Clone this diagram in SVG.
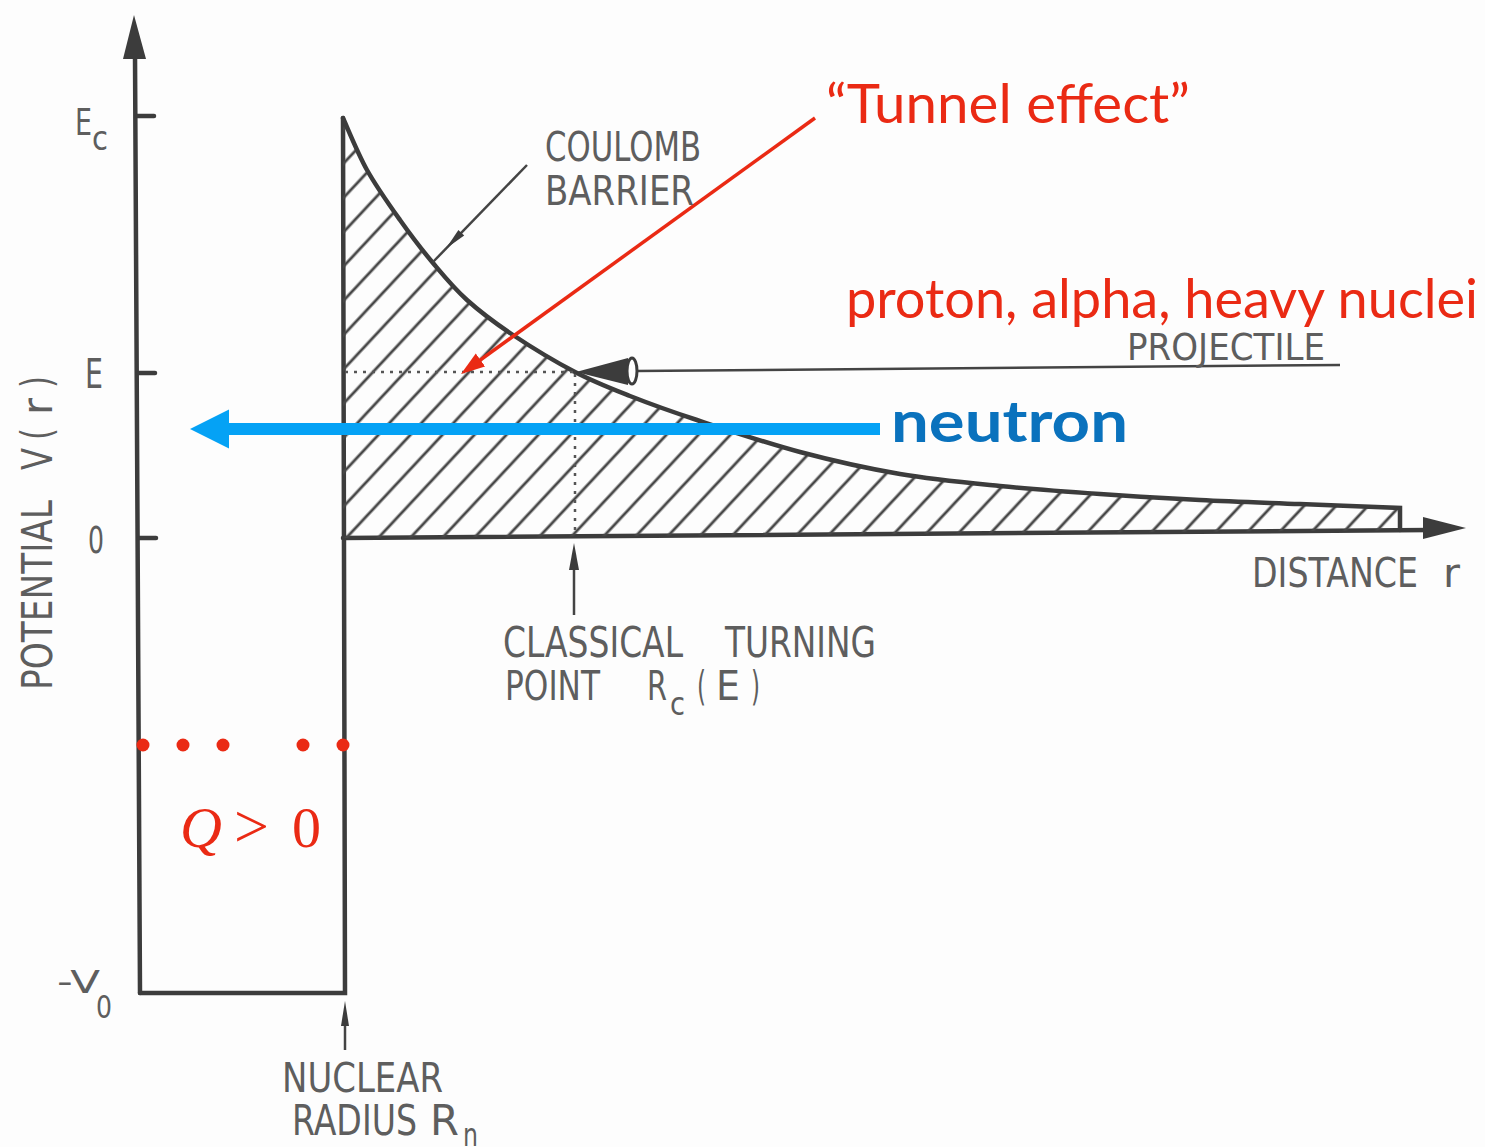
<svg xmlns="http://www.w3.org/2000/svg" width="1485" height="1147" viewBox="0 0 1485 1147">
  <style>
    .ax { stroke: #3c3c3c; stroke-width: 4.5; fill: none; stroke-linecap: round; }
    .ln { stroke: #444; stroke-width: 2.5; fill: none; }
    .dot { stroke: #555; stroke-width: 2.5; fill: none; }
    .dk { fill: #3c3c3c; }
    .lbl { font-family: "DejaVu Sans", "Liberation Sans", sans-serif; fill: #5e5e5e; }
    .red { font-family: Lato, "Open Sans", sans-serif; fill: #ea2a14; font-size: 55px; }
    .rdot { fill: #ea2a14; }
  </style>
  <defs>
    <pattern id="hatch" patternUnits="userSpaceOnUse" width="23.4" height="60" patternTransform="rotate(43)">
      <line x1="11.7" y1="0" x2="11.7" y2="60" stroke="#474747" stroke-width="2.8"/>
    </pattern>
    <marker id="redhead" markerUnits="userSpaceOnUse" markerWidth="26" markerHeight="18" refX="14" refY="8" orient="auto" viewBox="0 0 26 18">
      <path d="M0,0 L24,8 L0,16 Z" fill="#ea2a14"/>
    </marker>
  </defs>
  <rect width="1485" height="1147" fill="#fdfdfd"/>

  <g id="axes">
    <line class="ax" x1="135" y1="55" x2="140" y2="993"/>
    <polygon class="dk" points="134,15 123,59 146,59"/>
    <line class="ax" x1="343" y1="538" x2="1430" y2="530"/>
    <polygon class="dk" points="1466,528 1423,517 1423,539"/>
    <line class="ax" x1="137" y1="116" x2="154" y2="116" stroke-width="3.5"/>
    <line class="ax" x1="138" y1="373" x2="155" y2="373" stroke-width="3.5"/>
    <line class="ax" x1="139" y1="538" x2="156" y2="538" stroke-width="3.5"/>
  </g>

  <g id="well">
    <polyline class="ax" points="140,993 345,993 343,118"/>
  </g>

  <g id="barrier">
    <path d="M343,538 L343,118 C347,126.7 357.5,153 367,170 C376.5,187 389,204.5 400,220 C411,235.5 421.8,249.7 433,263 C444.2,276.3 453.7,288 467,300 C480.3,312 495,323 513,335 C531,347 555.5,361.8 575,372 C594.5,382.2 609.7,388 630,396 C650.3,404 668.7,410.7 697,420 C725.3,429.3 766.2,443 800,452 C833.8,461 866.7,468.3 900,474 C933.3,479.7 966.7,482.7 1000,486 C1033.3,489.3 1066.7,491.7 1100,494 C1133.3,496.3 1166.7,498.3 1200,500 C1233.3,501.7 1266.7,502.7 1300,504 C1333.3,505.3 1383.3,507.3 1400,508 L1400,530.3 Z" fill="url(#hatch)"/>
    <path class="ax" stroke-width="3.5" d="M343,118 C347,126.7 357.5,153 367,170 C376.5,187 389,204.5 400,220 C411,235.5 421.8,249.7 433,263 C444.2,276.3 453.7,288 467,300 C480.3,312 495,323 513,335 C531,347 555.5,361.8 575,372 C594.5,382.2 609.7,388 630,396 C650.3,404 668.7,410.7 697,420 C725.3,429.3 766.2,443 800,452 C833.8,461 866.7,468.3 900,474 C933.3,479.7 966.7,482.7 1000,486 C1033.3,489.3 1066.7,491.7 1100,494 C1133.3,496.3 1166.7,498.3 1200,500 C1233.3,501.7 1266.7,502.7 1300,504 C1333.3,505.3 1383.3,507.3 1400,508 L1400,530"/>
    <line class="dot" x1="345" y1="372" x2="575" y2="372" stroke-dasharray="3 6"/>
    <line class="dot" x1="575" y1="374" x2="575" y2="536" stroke-dasharray="3 6"/>
  </g>

  <g id="connectors">
    <!-- coulomb barrier pointer -->
    <line class="ln" x1="527" y1="165" x2="433" y2="262"/>
    <polygon class="dk" points="446,248.6 464.2,235.6 458.4,230"/>
    <!-- projectile -->
    <line class="ln" x1="636" y1="371" x2="1340" y2="365"/>
    <polygon class="dk" points="576,372 628,358 628,385"/>
    <ellipse cx="632" cy="371" rx="5" ry="13" fill="#fff" stroke="#3c3c3c" stroke-width="3"/>
    <!-- classical turning point arrow -->
    <line class="ln" x1="574" y1="615" x2="574" y2="560"/>
    <polygon class="dk" points="574,543 569,570 579,570"/>
    <!-- nuclear radius arrow -->
    <line class="ln" x1="345" y1="1050" x2="345" y2="1015"/>
    <polygon class="dk" points="345,1001 341,1026 349,1026"/>
    <!-- tunnel effect -->
    <line x1="815" y1="118" x2="469.1" y2="368.1" stroke="#ea2a14" stroke-width="3.5" marker-end="url(#redhead)"/>
    <!-- neutron -->
    <line x1="880" y1="429" x2="226" y2="429" stroke="#05a2f5" stroke-width="12"/>
    <polygon points="190,429 229,409.5 229,448.5" fill="#05a2f5"/>
  </g>

  <g id="axis-labels">
    <text class="lbl" x="75" y="135" font-size="38" textLength="17" lengthAdjust="spacingAndGlyphs">E</text>
    <text class="lbl" x="92" y="150" font-size="34" textLength="16" lengthAdjust="spacingAndGlyphs">c</text>
    <text class="lbl" x="85" y="388" font-size="40" textLength="18" lengthAdjust="spacingAndGlyphs">E</text>
    <text class="lbl" x="88" y="553" font-size="38" textLength="16" lengthAdjust="spacingAndGlyphs">0</text>
    <text class="lbl" x="57" y="993" font-size="32" textLength="43" lengthAdjust="spacingAndGlyphs">-V</text>
    <text class="lbl" x="96" y="1018" font-size="32" textLength="16" lengthAdjust="spacingAndGlyphs">0</text>
    <g transform="translate(52,690) rotate(-90)">
      <text class="lbl" x="0" y="0" font-size="42" textLength="190" lengthAdjust="spacingAndGlyphs">POTENTIAL</text>
      <text class="lbl" x="220" y="0" font-size="42" textLength="22" lengthAdjust="spacingAndGlyphs">V</text>
      <text class="lbl" x="250" y="0" font-size="42" textLength="12" lengthAdjust="spacingAndGlyphs">(</text>
      <text class="lbl" x="275" y="0" font-size="42" textLength="17" lengthAdjust="spacingAndGlyphs">r</text>
      <text class="lbl" x="302" y="0" font-size="42" textLength="12" lengthAdjust="spacingAndGlyphs">)</text>
    </g>
    <text class="lbl" x="1252" y="587" font-size="40" textLength="166" lengthAdjust="spacingAndGlyphs">DISTANCE</text>
    <text class="lbl" x="1443" y="587" font-size="40" textLength="17" lengthAdjust="spacingAndGlyphs">r</text>
  </g>

  <g id="coulomb-label">
    <text class="lbl" x="545" y="161" font-size="41" textLength="156" lengthAdjust="spacingAndGlyphs">COULOMB</text>
    <text class="lbl" x="545" y="205" font-size="41" textLength="149" lengthAdjust="spacingAndGlyphs">BARRIER</text>
  </g>

  <g id="projectile-label">
    <text class="lbl" x="1127" y="360" font-size="38" textLength="198" lengthAdjust="spacingAndGlyphs">PROJECTILE</text>
  </g>

  <g id="turning-label">
    <text class="lbl" x="503" y="657" font-size="43" textLength="180" lengthAdjust="spacingAndGlyphs">CLASSICAL</text>
    <text class="lbl" x="725" y="657" font-size="43" textLength="151" lengthAdjust="spacingAndGlyphs">TURNING</text>
    <text class="lbl" x="505" y="700" font-size="41" textLength="95" lengthAdjust="spacingAndGlyphs">POINT</text>
    <text class="lbl" x="647" y="700" font-size="41" textLength="20" lengthAdjust="spacingAndGlyphs">R</text>
    <text class="lbl" x="670" y="715" font-size="32" textLength="15" lengthAdjust="spacingAndGlyphs">c</text>
    <text class="lbl" x="697" y="700" font-size="41" textLength="9" lengthAdjust="spacingAndGlyphs">(</text>
    <text class="lbl" x="716" y="700" font-size="41" textLength="24" lengthAdjust="spacingAndGlyphs">E</text>
    <text class="lbl" x="751" y="700" font-size="41" textLength="9" lengthAdjust="spacingAndGlyphs">)</text>
  </g>

  <g id="nuclear-label">
    <text class="lbl" x="282" y="1092" font-size="40" textLength="161" lengthAdjust="spacingAndGlyphs">NUCLEAR</text>
    <text class="lbl" x="292" y="1135" font-size="42" textLength="125" lengthAdjust="spacingAndGlyphs">RADIUS</text>
    <text class="lbl" x="430" y="1135" font-size="42" textLength="29" lengthAdjust="spacingAndGlyphs">R</text>
    <text class="lbl" x="463" y="1146" font-size="32" textLength="15" lengthAdjust="spacingAndGlyphs">n</text>
  </g>

  <g id="tunnel-label">
    <text class="red" x="826" y="123" textLength="364" lengthAdjust="spacingAndGlyphs">“Tunnel effect”</text>
  </g>

  <g id="charged-label">
    <text class="red" x="846" y="318" textLength="632" lengthAdjust="spacingAndGlyphs">proton, alpha, heavy nuclei</text>
  </g>

  <g id="neutron-label">
    <text x="891" y="442" font-family="Lato, 'Open Sans', sans-serif" font-weight="bold" font-size="58" fill="#0a72bd" textLength="237" lengthAdjust="spacingAndGlyphs">neutron</text>
  </g>

  <g id="q-value">
    <circle class="rdot" cx="143" cy="745" r="6.5"/>
    <circle class="rdot" cx="183" cy="745" r="6.5"/>
    <circle class="rdot" cx="223" cy="745" r="6.5"/>
    <circle class="rdot" cx="303" cy="745" r="6.5"/>
    <circle class="rdot" cx="343" cy="745" r="6.5"/>
    <text x="180" y="847" font-family="'Liberation Serif', 'DejaVu Serif', serif" font-size="58" fill="#ea2a14"><tspan font-style="italic">Q</tspan><tspan x="234" font-size="62">&gt;</tspan><tspan x="292">0</tspan></text>
  </g>
</svg>
